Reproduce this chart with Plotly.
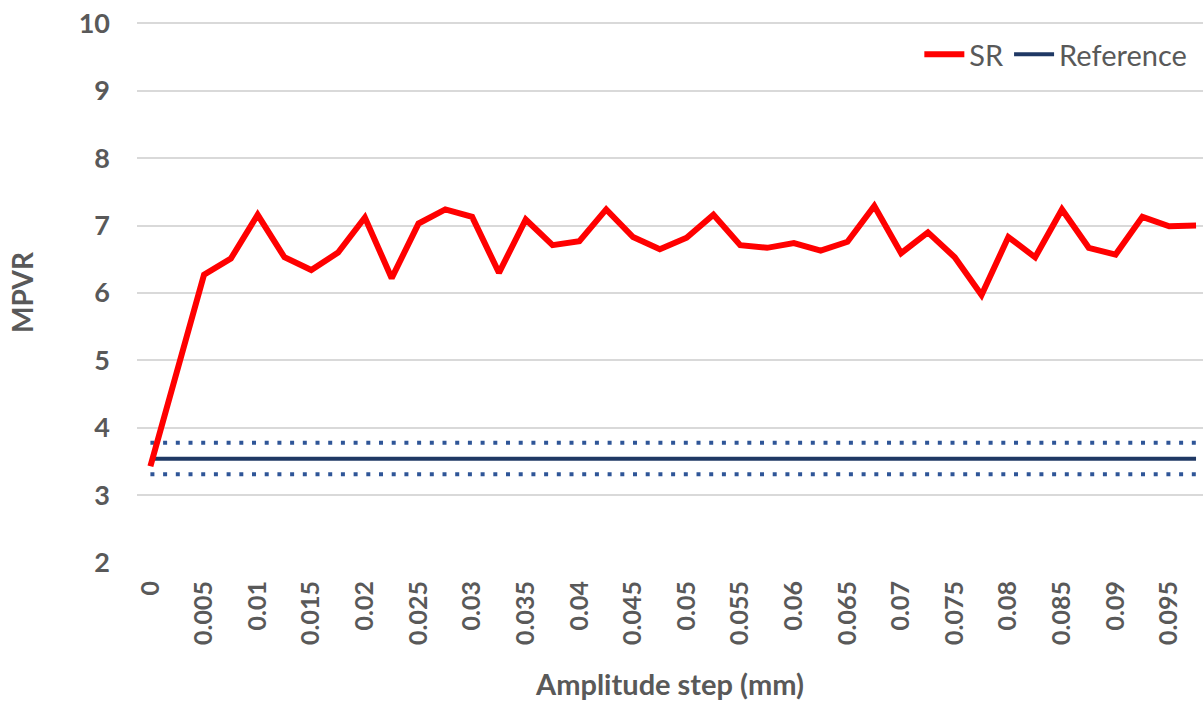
import plotly.graph_objects as go

# ---- data ----
amplitude_steps = [0, 0.0025, 0.005, 0.0075, 0.01, 0.0125, 0.015, 0.0175, 0.02, 0.0225,
                   0.025, 0.0275, 0.03, 0.0325, 0.035, 0.0375, 0.04, 0.0425, 0.045, 0.0475,
                   0.05, 0.0525, 0.055, 0.0575, 0.06, 0.0625, 0.065, 0.0675, 0.07, 0.0725,
                   0.075, 0.0775, 0.08, 0.0825, 0.085, 0.0875, 0.09, 0.0925, 0.095, 0.0975]
sr_values = [3.43, 4.85, 6.27, 6.51, 7.16, 6.53, 6.34, 6.60, 7.12, 6.22,
             7.03, 7.24, 7.13, 6.30, 7.09, 6.71, 6.77, 7.24, 6.83, 6.65,
             6.82, 7.16, 6.71, 6.67, 6.74, 6.63, 6.76, 7.29, 6.59, 6.90,
             6.53, 5.97, 6.83, 6.53, 7.24, 6.67, 6.57, 7.13, 6.99, 7.00]
reference_value = 3.54
reference_upper = 3.78
reference_lower = 3.31
tick_values = [0, 0.005, 0.01, 0.015, 0.02, 0.025, 0.03, 0.035, 0.04, 0.045,
               0.05, 0.055, 0.06, 0.065, 0.07, 0.075, 0.08, 0.085, 0.09, 0.095]
tick_labels = ["0", "0.005", "0.01", "0.015", "0.02", "0.025", "0.03", "0.035", "0.04", "0.045",
               "0.05", "0.055", "0.06", "0.065", "0.07", "0.075", "0.08", "0.085", "0.09", "0.095"]

x_span = [amplitude_steps[0], amplitude_steps[-1]]

FONT = "Lato"
GREY = "#595959"

fig = go.Figure()

fig.add_trace(go.Scatter(
    x=x_span, y=[reference_upper] * 2, mode="lines", showlegend=False,
    line=dict(color="#2F5597", width=4, dash="4px,8.7px"), hoverinfo="skip"))
fig.add_trace(go.Scatter(
    x=x_span, y=[reference_lower] * 2, mode="lines", showlegend=False,
    line=dict(color="#2F5597", width=4, dash="4px,8.7px"), hoverinfo="skip"))
fig.add_trace(go.Scatter(
    x=x_span, y=[reference_value] * 2, mode="lines", name="Reference",
    line=dict(color="#1F3864", width=4), legendrank=2))
fig.add_trace(go.Scatter(
    x=amplitude_steps, y=sr_values, mode="lines", name="SR",
    line=dict(color="#FF0000", width=6), legendrank=1))

fig.update_layout(
    width=1203, height=702,
    margin=dict(l=137, r=0, t=22, b=139),
    paper_bgcolor="white", plot_bgcolor="white",
    font=dict(family=FONT, color=GREY),
    legend=dict(orientation="h", x=0.99, xanchor="right", y=0.94, yanchor="middle",
                font=dict(size=29, color=GREY, family=FONT), bgcolor="rgba(0,0,0,0)",
                itemwidth=40),
    showlegend=True,
)

fig.update_xaxes(
    range=[-0.00125, 0.09815], automargin=False,
    tickmode="array", tickvals=tick_values, ticktext=tick_labels,
    tickangle=-90, tickfont=dict(size=25, family=FONT, color=GREY, weight="bold"),
    showgrid=False, zeroline=False, showline=False, ticks="", ticklabelstandoff=12,
    title=dict(text="Amplitude step (mm)", font=dict(size=29, family=FONT, color=GREY, weight="bold"),
               standoff=30),
)
fig.update_yaxes(
    range=[1.995, 10.02], dtick=1, tick0=2, automargin=False,
    tickfont=dict(size=27, family=FONT, color=GREY, weight="bold"),
    showgrid=True, gridcolor="#D9D9D9", gridwidth=1.5, zeroline=False, showline=False,
    ticks="", ticklabelstandoff=26, ticklabeloverflow="allow",
    title=dict(text="MPVR", font=dict(size=28, family=FONT, color=GREY, weight="bold"),
               standoff=36),
)

fig.write_html("out.html", config={"displayModeBar": False},
               post_script="document.body.style.margin='0';")
